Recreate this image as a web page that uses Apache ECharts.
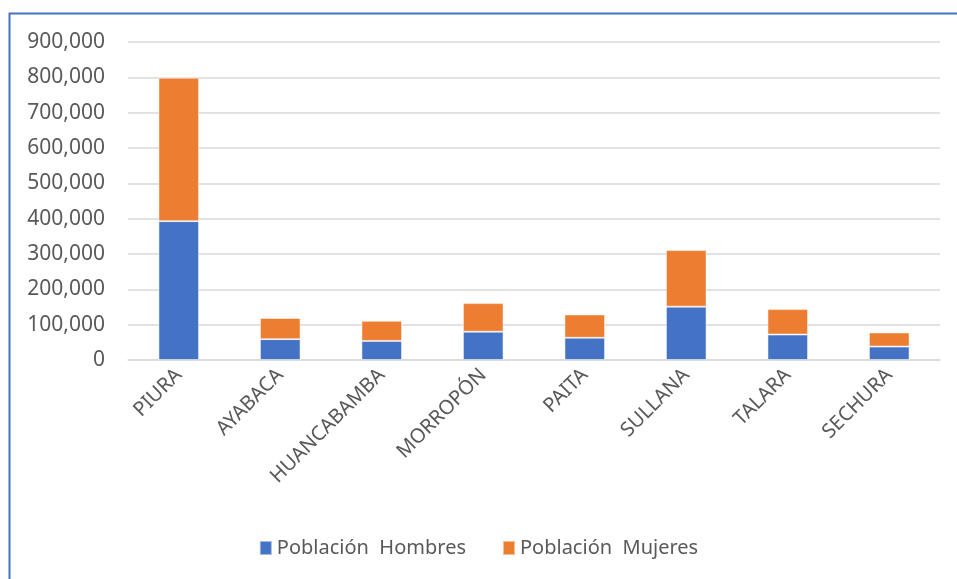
<!DOCTYPE html>
<html>
<head>
<meta charset="utf-8">
<script src="https://cdn.jsdelivr.net/npm/echarts@6/dist/echarts.min.js"></script>
<style>
  html, body { margin: 0; padding: 0; background: #fff; }
  #chart { width: 957px; height: 579px; }
</style>
</head>
<body>
<div id="chart"></div>
<script>
// provincias de Piura
const provincias = ['PIURA', 'AYABACA', 'HUANCABAMBA', 'MORROPÓN', 'PAITA', 'SULLANA', 'TALARA', 'SECHURA'];
const hombres = [393000, 59000, 54000, 80000, 63000, 151000, 72000, 38000];
const mujeres = [406000, 60000, 57000, 81000, 66000, 160000, 72000, 40000];
const seriesNames = ['Población  Hombres', 'Población  Mujeres'];

const chart = echarts.init(document.getElementById('chart'));
const font = 'Noto Sans';

const option = {
  animation: false,
  color: ['#4472c4', '#ed7d31'],
  grid: { left: 128, right: 17, top: 42, bottom: 219, containLabel: false },
  legend: {
    bottom: 16,
    left: 'center',
    itemWidth: 12,
    itemHeight: 14,
    itemGap: 36,
    icon: 'rect',
    textStyle: { color: '#595959', fontSize: 20, fontFamily: font },
    data: seriesNames
  },
  xAxis: {
    type: 'category',
    data: provincias,
    axisLine: { lineStyle: { color: '#d9d9d9', width: 1.5 } },
    axisTick: { show: false },
    axisLabel: { rotate: 45, color: '#595959', fontSize: 20, fontFamily: font, margin: 12 }
  },
  yAxis: {
    type: 'value',
    min: 0,
    max: 900000,
    interval: 100000,
    axisLine: { show: false },
    axisTick: { show: false },
    splitLine: { lineStyle: { color: '#d9d9d9', width: 1.5 } },
    axisLabel: {
      color: '#595959', fontSize: 21, fontFamily: font, margin: 23,
      formatter: v => v.toLocaleString('en-US')
    }
  },
  series: [
    { name: seriesNames[0], type: 'bar', stack: 'pob', data: hombres, barWidth: '40%',
      itemStyle: { borderColor: 'rgba(255,255,255,0.5)', borderWidth: 1 } },
    { name: seriesNames[1], type: 'bar', stack: 'pob', data: mujeres, barWidth: '40%',
      itemStyle: { borderColor: 'rgba(255,255,255,0.5)', borderWidth: 1 } }
  ],
  graphic: [
    // marco azul (solo se ven borde superior e izquierdo)
    { type: 'polyline', shape: { points: [[9.5, 579], [9.5, 13.5], [957, 13.5]] },
      style: { stroke: '#4472c4', lineWidth: 2, fill: null } }
  ]
};
chart.setOption(option);
</script>
</body>
</html>
